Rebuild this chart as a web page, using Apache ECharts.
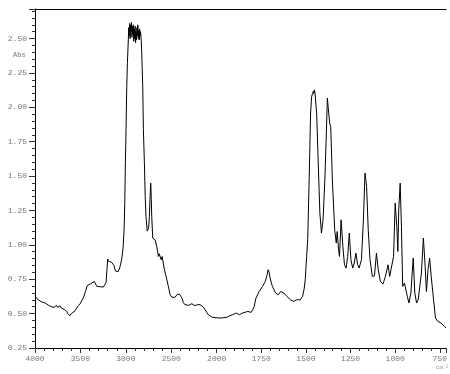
<!DOCTYPE html>
<html><head><meta charset="utf-8">
<script src="https://cdn.jsdelivr.net/npm/echarts@6/dist/echarts.min.js"></script>
<style>html,body{margin:0;padding:0;background:#fff}#c{width:450px;height:374px}</style>
</head><body><div id="c"></div>
<script>
// 4000 -> 2000 cm-1 (compressed scale)
const wnHigh = [4000,3985,3965,3945,3925,3905,3890,3870,3850,3835,3820,3805,3790,3780,3765,3750,3735,3725,3710,3700,3688,3675,3660,3651,3640,3630,3615,3600,3590,3578,3560,3541,3520,3500,3486,3465,3445,3424,3405,3387,3370,3347,3335,3320,3300,3275,3248,3230,3218,3208,3200,3190,3174,3160,3149,3130,3115,3100,3085,3072,3060,3045,3030,3020,3012,3005,2998,2990,2983,2973,2968,2963,2958,2953,2948,2943,2938,2933,2928,2923,2918,2913,2908,2903,2898,2893,2888,2883,2878,2873,2868,2863,2858,2853,2848,2843,2838,2830,2825,2814,2807,2796,2787,2778,2765,2759,2750,2741,2733,2726,2720,2715,2704,2690,2678,2660,2650,2642,2632,2623,2612,2600,2594,2579,2557,2532,2513,2495,2477,2460,2447,2435,2422,2408,2395,2380,2367,2350,2330,2310,2290,2274,2255,2238,2215,2200,2183,2165,2147,2128,2110,2091,2070,2054,2030,2000];
const absHigh = [0.63,0.615,0.60,0.59,0.585,0.58,0.578,0.57,0.56,0.565,0.55,0.56,0.545,0.55,0.56,0.545,0.555,0.557,0.54,0.535,0.528,0.53,0.52,0.516,0.50,0.505,0.485,0.50,0.495,0.504,0.52,0.54,0.56,0.575,0.589,0.62,0.66,0.705,0.71,0.717,0.725,0.734,0.72,0.698,0.69,0.695,0.693,0.70,0.725,0.82,0.897,0.88,0.868,0.875,0.88,0.85,0.81,0.80,0.805,0.824,0.85,0.90,0.98,1.10,1.30,1.60,1.84,2.15,2.32,2.49,2.58,2.52,2.61,2.50,2.60,2.55,2.62,2.51,2.59,2.53,2.60,2.48,2.57,2.50,2.59,2.47,2.55,2.49,2.58,2.52,2.60,2.50,2.56,2.49,2.57,2.52,2.55,2.48,2.40,2.15,1.84,1.60,1.35,1.206,1.10,1.086,1.12,1.206,1.35,1.449,1.33,1.206,1.049,1.04,1.037,0.988,0.95,0.916,0.935,0.94,0.892,0.915,0.928,0.831,0.77,0.698,0.637,0.62,0.613,0.618,0.625,0.64,0.654,0.64,0.625,0.61,0.58,0.565,0.57,0.56,0.572,0.572,0.56,0.557,0.565,0.56,0.565,0.555,0.548,0.528,0.51,0.492,0.48,0.475,0.472,0.47];
// 2000 -> 715 cm-1 (expanded scale)
const wnLow = [2000,1982,1960,1940,1927,1905,1890,1872,1855,1840,1826,1807,1798,1790,1780,1762,1743,1728,1718,1712,1706,1701,1688,1670,1655,1642,1632,1624,1606,1587,1569,1551,1540,1532,1519,1510,1504,1496,1490,1482,1474,1468,1463,1459,1456,1453,1449,1440,1431,1422,1413,1404,1394,1385,1380,1375,1372,1367,1361,1352,1339,1330,1325,1317,1312,1303,1293,1284,1275,1266,1257,1248,1238,1229,1220,1211,1202,1189,1178,1169,1160,1151,1141,1128,1116,1105,1095,1083,1068,1055,1040,1031,1022,1009,1000,991,985,980,972,965,958,948,939,932,923,912,899,890,880,871,853,842,832,825,816,807,798,785,774,761,743,724,715];
const absLow = [0.47,0.468,0.47,0.475,0.485,0.495,0.504,0.492,0.505,0.51,0.516,0.509,0.528,0.552,0.613,0.661,0.698,0.734,0.78,0.819,0.80,0.759,0.698,0.65,0.637,0.661,0.66,0.65,0.625,0.601,0.589,0.601,0.598,0.60,0.625,0.68,0.746,0.916,1.04,1.473,1.958,2.078,2.10,2.115,2.10,2.127,2.103,1.958,1.594,1.231,1.086,1.182,1.473,1.836,2.067,2.06,2.054,1.885,1.86,1.473,1.11,1.013,1.097,0.964,0.916,1.182,0.988,0.855,0.831,0.916,1.086,0.892,0.831,0.868,0.94,0.86,0.831,0.892,1.182,1.522,1.424,1.11,0.892,0.77,0.775,0.94,0.819,0.735,0.715,0.77,0.855,0.77,0.759,0.916,1.304,1.134,0.952,1.255,1.449,1.134,0.698,0.722,0.734,0.625,0.577,0.65,0.904,0.65,0.577,0.601,0.795,1.049,0.843,0.661,0.819,0.904,0.77,0.601,0.468,0.443,0.432,0.407,0.395];
const xTickStepHigh = 500;
const xTickStepLow = 250;
const yTickStep = 0.25;
const yName = 'Abs';
const xUnit = 'cm⁻¹';

const chart = echarts.init(document.getElementById('c'), null, {renderer: 'canvas'});
const labelStyle = {color: '#777', fontFamily: 'Liberation Mono', fontSize: 8};
const lineStyle = {color: '#000', width: 1};
const yMin = 0.25, yMax = 2.715;

const highData = wnHigh.map((w, i) => [w, absHigh[i]]);
const lowData = wnLow.map((w, i) => [-w, absLow[i]]);

chart.setOption({
  animation: false,
  backgroundColor: '#fff',
  grid: [
    {left: 35, top: 9, bottom: 26, width: 181.7},
    {left: 216.7, top: 9, bottom: 26, right: 0}
  ],
  xAxis: [
    {gridIndex: 0, type: 'value', min: 2000, max: 4000, inverse: true, interval: xTickStepHigh,
     axisLine: {lineStyle: {color: '#000'}},
     axisTick: {length: 5, lineStyle: {color: '#333'}},
     minorTick: {show: true, splitNumber: 5, length: 3, lineStyle: {color: '#333'}},
     axisLabel: Object.assign({margin: 7, formatter: v => String(v)}, labelStyle),
     splitLine: {show: false}},
    {gridIndex: 1, type: 'value', min: -2000, max: -715, interval: xTickStepLow,
     axisLine: {lineStyle: {color: '#000'}},
     axisTick: {length: 5, lineStyle: {color: '#333'}},
     minorTick: {show: true, splitNumber: 5, length: 3, lineStyle: {color: '#333'}},
     axisLabel: Object.assign({margin: 7, formatter: v => (v % xTickStepLow === 0 && v !== -2000) ? String(-v) : ''}, labelStyle),
     splitLine: {show: false}},
    {gridIndex: 0, type: 'value', position: 'top', min: 0, max: 1,
     axisLine: {lineStyle: {color: '#000'}}, axisTick: {show: false}, axisLabel: {show: false}, splitLine: {show: false}},
    {gridIndex: 1, type: 'value', position: 'top', min: 0, max: 1,
     axisLine: {lineStyle: {color: '#000'}}, axisTick: {show: false}, axisLabel: {show: false}, splitLine: {show: false}}
  ],
  yAxis: [
    {gridIndex: 0, type: 'value', min: yMin, max: yMax, interval: yTickStep,
     axisLine: {show: true, lineStyle: {color: '#000'}},
     axisTick: {show: true, length: 6, lineStyle: {color: '#333'}},
     minorTick: {show: true, splitNumber: 5, length: 3, lineStyle: {color: '#333'}},
     axisLabel: Object.assign({margin: 8, formatter: v => {
        const r = Math.round(v / yTickStep) * yTickStep;
        return Math.abs(r - v) < 1e-6 && v <= 2.5 + 1e-6 ? v.toFixed(2) : '';
     }}, labelStyle),
     splitLine: {show: false}},
    {gridIndex: 1, type: 'value', min: yMin, max: yMax, show: false}
  ],
  graphic: [
    {type: 'text', left: 13, top: 52, style: {text: yName, fill: '#777', font: '7px "Liberation Mono"'}},
    {type: 'text', left: 436, top: 364, style: {text: xUnit, fill: '#999', font: '6px "Liberation Mono"'}}
  ],
  series: [
    {type: 'line', xAxisIndex: 0, yAxisIndex: 0, data: highData, symbol: 'none',
     lineStyle: lineStyle, clip: true},
    {type: 'line', xAxisIndex: 1, yAxisIndex: 1, data: lowData, symbol: 'none',
     lineStyle: lineStyle, clip: true}
  ]
});
</script>
</body></html>
